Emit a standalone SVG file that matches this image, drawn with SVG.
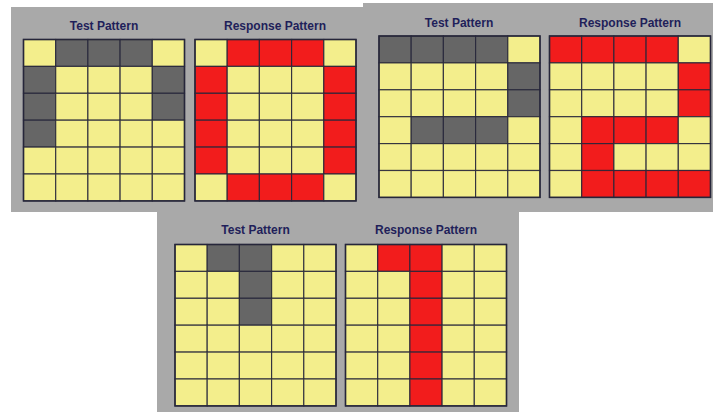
<svg xmlns="http://www.w3.org/2000/svg" width="713" height="412" viewBox="0 0 713 412">
<style>
.bg{fill:#a9a9a9}
.t{font-family:"Liberation Sans",Arial,sans-serif;font-weight:bold;font-size:12px;fill:#1f1f5a;text-anchor:middle}
rect.c{stroke:#26263a;stroke-width:1.2;stroke-opacity:0.85}
.y{fill:#f3ee8c}
.g{fill:#666666}
.r{fill:#f21c1c}
.o{fill:none;stroke:#26263a;stroke-width:1.5}
</style>
<rect width="713" height="412" fill="#ffffff"/>
<g id="panels">
<rect class="bg" x="11" y="7" width="353" height="205"/>
<rect class="bg" x="363" y="3" width="350" height="209"/>
<rect class="bg" x="157" y="211" width="362" height="201"/>
</g>
<g id="titles">
<text class="t" x="104" y="29.5">Test Pattern</text>
<text class="t" x="275" y="29.5">Response Pattern</text>
<text class="t" x="459" y="26.5">Test Pattern</text>
<text class="t" x="630" y="26.5">Response Pattern</text>
<text class="t" x="255.5" y="234">Test Pattern</text>
<text class="t" x="426" y="234">Response Pattern</text>
</g>
<g id="grid-test-0" transform="translate(23.5,39.5)">
<rect class="c y" x="0" y="0" width="32.2" height="26.9"/><rect class="c g" x="32.2" y="0" width="32.2" height="26.9"/><rect class="c g" x="64.4" y="0" width="32.2" height="26.9"/><rect class="c g" x="96.6" y="0" width="32.2" height="26.9"/><rect class="c y" x="128.8" y="0" width="32.2" height="26.9"/>
<rect class="c g" x="0" y="26.9" width="32.2" height="26.9"/><rect class="c y" x="32.2" y="26.9" width="32.2" height="26.9"/><rect class="c y" x="64.4" y="26.9" width="32.2" height="26.9"/><rect class="c y" x="96.6" y="26.9" width="32.2" height="26.9"/><rect class="c g" x="128.8" y="26.9" width="32.2" height="26.9"/>
<rect class="c g" x="0" y="53.8" width="32.2" height="26.9"/><rect class="c y" x="32.2" y="53.8" width="32.2" height="26.9"/><rect class="c y" x="64.4" y="53.8" width="32.2" height="26.9"/><rect class="c y" x="96.6" y="53.8" width="32.2" height="26.9"/><rect class="c g" x="128.8" y="53.8" width="32.2" height="26.9"/>
<rect class="c g" x="0" y="80.7" width="32.2" height="26.9"/><rect class="c y" x="32.2" y="80.7" width="32.2" height="26.9"/><rect class="c y" x="64.4" y="80.7" width="32.2" height="26.9"/><rect class="c y" x="96.6" y="80.7" width="32.2" height="26.9"/><rect class="c y" x="128.8" y="80.7" width="32.2" height="26.9"/>
<rect class="c y" x="0" y="107.6" width="32.2" height="26.9"/><rect class="c y" x="32.2" y="107.6" width="32.2" height="26.9"/><rect class="c y" x="64.4" y="107.6" width="32.2" height="26.9"/><rect class="c y" x="96.6" y="107.6" width="32.2" height="26.9"/><rect class="c y" x="128.8" y="107.6" width="32.2" height="26.9"/>
<rect class="c y" x="0" y="134.5" width="32.2" height="26.9"/><rect class="c y" x="32.2" y="134.5" width="32.2" height="26.9"/><rect class="c y" x="64.4" y="134.5" width="32.2" height="26.9"/><rect class="c y" x="96.6" y="134.5" width="32.2" height="26.9"/><rect class="c y" x="128.8" y="134.5" width="32.2" height="26.9"/>
<rect class="o" x="0" y="0" width="161" height="161.4"/>
</g>
<g id="grid-response-0" transform="translate(195,39.5)">
<rect class="c y" x="0" y="0" width="32.2" height="26.9"/><rect class="c r" x="32.2" y="0" width="32.2" height="26.9"/><rect class="c r" x="64.4" y="0" width="32.2" height="26.9"/><rect class="c r" x="96.6" y="0" width="32.2" height="26.9"/><rect class="c y" x="128.8" y="0" width="32.2" height="26.9"/>
<rect class="c r" x="0" y="26.9" width="32.2" height="26.9"/><rect class="c y" x="32.2" y="26.9" width="32.2" height="26.9"/><rect class="c y" x="64.4" y="26.9" width="32.2" height="26.9"/><rect class="c y" x="96.6" y="26.9" width="32.2" height="26.9"/><rect class="c r" x="128.8" y="26.9" width="32.2" height="26.9"/>
<rect class="c r" x="0" y="53.8" width="32.2" height="26.9"/><rect class="c y" x="32.2" y="53.8" width="32.2" height="26.9"/><rect class="c y" x="64.4" y="53.8" width="32.2" height="26.9"/><rect class="c y" x="96.6" y="53.8" width="32.2" height="26.9"/><rect class="c r" x="128.8" y="53.8" width="32.2" height="26.9"/>
<rect class="c r" x="0" y="80.7" width="32.2" height="26.9"/><rect class="c y" x="32.2" y="80.7" width="32.2" height="26.9"/><rect class="c y" x="64.4" y="80.7" width="32.2" height="26.9"/><rect class="c y" x="96.6" y="80.7" width="32.2" height="26.9"/><rect class="c r" x="128.8" y="80.7" width="32.2" height="26.9"/>
<rect class="c r" x="0" y="107.6" width="32.2" height="26.9"/><rect class="c y" x="32.2" y="107.6" width="32.2" height="26.9"/><rect class="c y" x="64.4" y="107.6" width="32.2" height="26.9"/><rect class="c y" x="96.6" y="107.6" width="32.2" height="26.9"/><rect class="c r" x="128.8" y="107.6" width="32.2" height="26.9"/>
<rect class="c y" x="0" y="134.5" width="32.2" height="26.9"/><rect class="c r" x="32.2" y="134.5" width="32.2" height="26.9"/><rect class="c r" x="64.4" y="134.5" width="32.2" height="26.9"/><rect class="c r" x="96.6" y="134.5" width="32.2" height="26.9"/><rect class="c y" x="128.8" y="134.5" width="32.2" height="26.9"/>
<rect class="o" x="0" y="0" width="161" height="161.4"/>
</g>
<g id="grid-test-2" transform="translate(379,36)">
<rect class="c g" x="0" y="0" width="32.2" height="26.9"/><rect class="c g" x="32.2" y="0" width="32.2" height="26.9"/><rect class="c g" x="64.4" y="0" width="32.2" height="26.9"/><rect class="c g" x="96.6" y="0" width="32.2" height="26.9"/><rect class="c y" x="128.8" y="0" width="32.2" height="26.9"/>
<rect class="c y" x="0" y="26.9" width="32.2" height="26.9"/><rect class="c y" x="32.2" y="26.9" width="32.2" height="26.9"/><rect class="c y" x="64.4" y="26.9" width="32.2" height="26.9"/><rect class="c y" x="96.6" y="26.9" width="32.2" height="26.9"/><rect class="c g" x="128.8" y="26.9" width="32.2" height="26.9"/>
<rect class="c y" x="0" y="53.8" width="32.2" height="26.9"/><rect class="c y" x="32.2" y="53.8" width="32.2" height="26.9"/><rect class="c y" x="64.4" y="53.8" width="32.2" height="26.9"/><rect class="c y" x="96.6" y="53.8" width="32.2" height="26.9"/><rect class="c g" x="128.8" y="53.8" width="32.2" height="26.9"/>
<rect class="c y" x="0" y="80.7" width="32.2" height="26.9"/><rect class="c g" x="32.2" y="80.7" width="32.2" height="26.9"/><rect class="c g" x="64.4" y="80.7" width="32.2" height="26.9"/><rect class="c g" x="96.6" y="80.7" width="32.2" height="26.9"/><rect class="c y" x="128.8" y="80.7" width="32.2" height="26.9"/>
<rect class="c y" x="0" y="107.6" width="32.2" height="26.9"/><rect class="c y" x="32.2" y="107.6" width="32.2" height="26.9"/><rect class="c y" x="64.4" y="107.6" width="32.2" height="26.9"/><rect class="c y" x="96.6" y="107.6" width="32.2" height="26.9"/><rect class="c y" x="128.8" y="107.6" width="32.2" height="26.9"/>
<rect class="c y" x="0" y="134.5" width="32.2" height="26.9"/><rect class="c y" x="32.2" y="134.5" width="32.2" height="26.9"/><rect class="c y" x="64.4" y="134.5" width="32.2" height="26.9"/><rect class="c y" x="96.6" y="134.5" width="32.2" height="26.9"/><rect class="c y" x="128.8" y="134.5" width="32.2" height="26.9"/>
<rect class="o" x="0" y="0" width="161" height="161.4"/>
</g>
<g id="grid-response-2" transform="translate(549.5,36)">
<rect class="c r" x="0" y="0" width="32.2" height="26.9"/><rect class="c r" x="32.2" y="0" width="32.2" height="26.9"/><rect class="c r" x="64.4" y="0" width="32.2" height="26.9"/><rect class="c r" x="96.6" y="0" width="32.2" height="26.9"/><rect class="c y" x="128.8" y="0" width="32.2" height="26.9"/>
<rect class="c y" x="0" y="26.9" width="32.2" height="26.9"/><rect class="c y" x="32.2" y="26.9" width="32.2" height="26.9"/><rect class="c y" x="64.4" y="26.9" width="32.2" height="26.9"/><rect class="c y" x="96.6" y="26.9" width="32.2" height="26.9"/><rect class="c r" x="128.8" y="26.9" width="32.2" height="26.9"/>
<rect class="c y" x="0" y="53.8" width="32.2" height="26.9"/><rect class="c y" x="32.2" y="53.8" width="32.2" height="26.9"/><rect class="c y" x="64.4" y="53.8" width="32.2" height="26.9"/><rect class="c y" x="96.6" y="53.8" width="32.2" height="26.9"/><rect class="c r" x="128.8" y="53.8" width="32.2" height="26.9"/>
<rect class="c y" x="0" y="80.7" width="32.2" height="26.9"/><rect class="c r" x="32.2" y="80.7" width="32.2" height="26.9"/><rect class="c r" x="64.4" y="80.7" width="32.2" height="26.9"/><rect class="c r" x="96.6" y="80.7" width="32.2" height="26.9"/><rect class="c y" x="128.8" y="80.7" width="32.2" height="26.9"/>
<rect class="c y" x="0" y="107.6" width="32.2" height="26.9"/><rect class="c r" x="32.2" y="107.6" width="32.2" height="26.9"/><rect class="c y" x="64.4" y="107.6" width="32.2" height="26.9"/><rect class="c y" x="96.6" y="107.6" width="32.2" height="26.9"/><rect class="c y" x="128.8" y="107.6" width="32.2" height="26.9"/>
<rect class="c y" x="0" y="134.5" width="32.2" height="26.9"/><rect class="c r" x="32.2" y="134.5" width="32.2" height="26.9"/><rect class="c r" x="64.4" y="134.5" width="32.2" height="26.9"/><rect class="c r" x="96.6" y="134.5" width="32.2" height="26.9"/><rect class="c r" x="128.8" y="134.5" width="32.2" height="26.9"/>
<rect class="o" x="0" y="0" width="161" height="161.4"/>
</g>
<g id="grid-test-1" transform="translate(175,244.5)">
<rect class="c y" x="0" y="0" width="32.2" height="26.9"/><rect class="c g" x="32.2" y="0" width="32.2" height="26.9"/><rect class="c g" x="64.4" y="0" width="32.2" height="26.9"/><rect class="c y" x="96.6" y="0" width="32.2" height="26.9"/><rect class="c y" x="128.8" y="0" width="32.2" height="26.9"/>
<rect class="c y" x="0" y="26.9" width="32.2" height="26.9"/><rect class="c y" x="32.2" y="26.9" width="32.2" height="26.9"/><rect class="c g" x="64.4" y="26.9" width="32.2" height="26.9"/><rect class="c y" x="96.6" y="26.9" width="32.2" height="26.9"/><rect class="c y" x="128.8" y="26.9" width="32.2" height="26.9"/>
<rect class="c y" x="0" y="53.8" width="32.2" height="26.9"/><rect class="c y" x="32.2" y="53.8" width="32.2" height="26.9"/><rect class="c g" x="64.4" y="53.8" width="32.2" height="26.9"/><rect class="c y" x="96.6" y="53.8" width="32.2" height="26.9"/><rect class="c y" x="128.8" y="53.8" width="32.2" height="26.9"/>
<rect class="c y" x="0" y="80.7" width="32.2" height="26.9"/><rect class="c y" x="32.2" y="80.7" width="32.2" height="26.9"/><rect class="c y" x="64.4" y="80.7" width="32.2" height="26.9"/><rect class="c y" x="96.6" y="80.7" width="32.2" height="26.9"/><rect class="c y" x="128.8" y="80.7" width="32.2" height="26.9"/>
<rect class="c y" x="0" y="107.6" width="32.2" height="26.9"/><rect class="c y" x="32.2" y="107.6" width="32.2" height="26.9"/><rect class="c y" x="64.4" y="107.6" width="32.2" height="26.9"/><rect class="c y" x="96.6" y="107.6" width="32.2" height="26.9"/><rect class="c y" x="128.8" y="107.6" width="32.2" height="26.9"/>
<rect class="c y" x="0" y="134.5" width="32.2" height="26.9"/><rect class="c y" x="32.2" y="134.5" width="32.2" height="26.9"/><rect class="c y" x="64.4" y="134.5" width="32.2" height="26.9"/><rect class="c y" x="96.6" y="134.5" width="32.2" height="26.9"/><rect class="c y" x="128.8" y="134.5" width="32.2" height="26.9"/>
<rect class="o" x="0" y="0" width="161" height="161.4"/>
</g>
<g id="grid-response-1" transform="translate(345.5,244.5)">
<rect class="c y" x="0" y="0" width="32.2" height="26.9"/><rect class="c r" x="32.2" y="0" width="32.2" height="26.9"/><rect class="c r" x="64.4" y="0" width="32.2" height="26.9"/><rect class="c y" x="96.6" y="0" width="32.2" height="26.9"/><rect class="c y" x="128.8" y="0" width="32.2" height="26.9"/>
<rect class="c y" x="0" y="26.9" width="32.2" height="26.9"/><rect class="c y" x="32.2" y="26.9" width="32.2" height="26.9"/><rect class="c r" x="64.4" y="26.9" width="32.2" height="26.9"/><rect class="c y" x="96.6" y="26.9" width="32.2" height="26.9"/><rect class="c y" x="128.8" y="26.9" width="32.2" height="26.9"/>
<rect class="c y" x="0" y="53.8" width="32.2" height="26.9"/><rect class="c y" x="32.2" y="53.8" width="32.2" height="26.9"/><rect class="c r" x="64.4" y="53.8" width="32.2" height="26.9"/><rect class="c y" x="96.6" y="53.8" width="32.2" height="26.9"/><rect class="c y" x="128.8" y="53.8" width="32.2" height="26.9"/>
<rect class="c y" x="0" y="80.7" width="32.2" height="26.9"/><rect class="c y" x="32.2" y="80.7" width="32.2" height="26.9"/><rect class="c r" x="64.4" y="80.7" width="32.2" height="26.9"/><rect class="c y" x="96.6" y="80.7" width="32.2" height="26.9"/><rect class="c y" x="128.8" y="80.7" width="32.2" height="26.9"/>
<rect class="c y" x="0" y="107.6" width="32.2" height="26.9"/><rect class="c y" x="32.2" y="107.6" width="32.2" height="26.9"/><rect class="c r" x="64.4" y="107.6" width="32.2" height="26.9"/><rect class="c y" x="96.6" y="107.6" width="32.2" height="26.9"/><rect class="c y" x="128.8" y="107.6" width="32.2" height="26.9"/>
<rect class="c y" x="0" y="134.5" width="32.2" height="26.9"/><rect class="c y" x="32.2" y="134.5" width="32.2" height="26.9"/><rect class="c r" x="64.4" y="134.5" width="32.2" height="26.9"/><rect class="c y" x="96.6" y="134.5" width="32.2" height="26.9"/><rect class="c y" x="128.8" y="134.5" width="32.2" height="26.9"/>
<rect class="o" x="0" y="0" width="161" height="161.4"/>
</g>
</svg>
